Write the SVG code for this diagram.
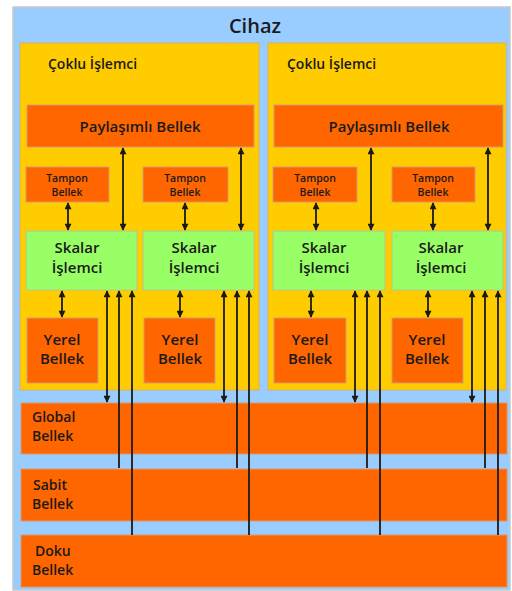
<svg xmlns="http://www.w3.org/2000/svg" width="512" height="591" viewBox="0 0 512 591">
<style>
text{font-family:"Open Sans","DejaVu Sans",sans-serif;fill:#1a1a1a;font-weight:600}
.blue{fill:#99CCFF;stroke:#c8c8c8;stroke-width:1.5}
.yel{fill:#FFCC00;stroke:#d9b060;stroke-width:1}
.org{fill:#FF6600;stroke:#d89a70;stroke-width:1}
.grn{fill:#99FF66;stroke:#b0c890;stroke-width:1}
.ln{stroke:#1a1a1a;stroke-width:1.8;fill:none}
.c{text-anchor:middle}
</style>
<defs>
<marker id="ah" viewBox="0 0 10 10" refX="9" refY="5" markerWidth="8" markerHeight="7" orient="auto-start-reverse" markerUnits="userSpaceOnUse">
<path d="M0,0 L10,5 L0,10 z" fill="#1a1a1a"/>
</marker>
</defs>
<rect width="512" height="591" fill="#ffffff"/>
<g id="cihaz">
<rect class="blue" x="13" y="7" width="497" height="583"/>
<text class="c" x="255" y="33" font-size="20" font-weight="bold">Cihaz</text>
</g>
<g id="mp1">
<rect class="yel" x="20" y="43" width="239" height="347"/>
<text x="48" y="69" font-size="14">Çoklu İşlemci</text>
</g>
<g id="mp2">
<rect class="yel" x="268" y="43" width="238" height="347"/>
<text x="287" y="69" font-size="14">Çoklu İşlemci</text>
</g>
<g id="shared1"><rect class="org" x="27" y="105" width="227" height="42"/><text class="c" x="140" y="132" font-size="15">Paylaşımlı Bellek</text></g>
<g id="shared2"><rect class="org" x="274" y="105" width="229" height="42"/><text class="c" x="389" y="132" font-size="15">Paylaşımlı Bellek</text></g>
<g id="tampon1"><rect class="org" x="26" y="167" width="83" height="35"/><text class="c" x="67" y="182" font-size="10.5">Tampon</text><text class="c" x="67" y="196" font-size="10.5">Bellek</text></g>
<g id="tampon2"><rect class="org" x="143" y="167" width="85" height="35"/><text class="c" x="185" y="182" font-size="10.5">Tampon</text><text class="c" x="185" y="196" font-size="10.5">Bellek</text></g>
<g id="tampon3"><rect class="org" x="273" y="167" width="84" height="35"/><text class="c" x="315" y="182" font-size="10.5">Tampon</text><text class="c" x="315" y="196" font-size="10.5">Bellek</text></g>
<g id="tampon4"><rect class="org" x="392" y="167" width="83" height="35"/><text class="c" x="433" y="182" font-size="10.5">Tampon</text><text class="c" x="433" y="196" font-size="10.5">Bellek</text></g>
<g id="skalar1"><rect class="grn" x="26" y="231" width="111" height="59"/><text class="c" x="77" y="253" font-size="15">Skalar</text><text class="c" x="77" y="273" font-size="15">İşlemci</text></g>
<g id="skalar2"><rect class="grn" x="143" y="231" width="111" height="59"/><text class="c" x="194" y="253" font-size="15">Skalar</text><text class="c" x="194" y="273" font-size="15">İşlemci</text></g>
<g id="skalar3"><rect class="grn" x="273" y="231" width="112" height="59"/><text class="c" x="324" y="253" font-size="15">Skalar</text><text class="c" x="324" y="273" font-size="15">İşlemci</text></g>
<g id="skalar4"><rect class="grn" x="392" y="231" width="111" height="59"/><text class="c" x="441" y="253" font-size="15">Skalar</text><text class="c" x="441" y="273" font-size="15">İşlemci</text></g>
<g id="yerel1"><rect class="org" x="27" y="318" width="71" height="65"/><text class="c" x="62" y="345" font-size="15">Yerel</text><text class="c" x="62" y="364" font-size="15">Bellek</text></g>
<g id="yerel2"><rect class="org" x="144" y="318" width="71" height="65"/><text class="c" x="180" y="345" font-size="15">Yerel</text><text class="c" x="180" y="364" font-size="15">Bellek</text></g>
<g id="yerel3"><rect class="org" x="274" y="318" width="72" height="65"/><text class="c" x="310" y="345" font-size="15">Yerel</text><text class="c" x="310" y="364" font-size="15">Bellek</text></g>
<g id="yerel4"><rect class="org" x="392" y="318" width="71" height="65"/><text class="c" x="427" y="345" font-size="15">Yerel</text><text class="c" x="427" y="364" font-size="15">Bellek</text></g>
<g id="global"><rect class="org" x="21" y="403" width="486" height="51"/><text x="32" y="422" font-size="14">Global</text><text x="32" y="441" font-size="14">Bellek</text></g>
<g id="sabit"><rect class="org" x="21" y="469" width="486" height="52"/><text x="33" y="490" font-size="14">Sabit</text><text x="32" y="509" font-size="14">Bellek</text></g>
<g id="doku"><rect class="org" x="21" y="535" width="486" height="52"/><text x="35" y="556" font-size="14">Doku</text><text x="32" y="575" font-size="14">Bellek</text></g>
<g id="connectors">
<line class="ln" x1="123" y1="148" x2="123" y2="230" marker-start="url(#ah)" marker-end="url(#ah)"/>
<line class="ln" x1="241" y1="148" x2="241" y2="230" marker-start="url(#ah)" marker-end="url(#ah)"/>
<line class="ln" x1="371" y1="148" x2="371" y2="230" marker-start="url(#ah)" marker-end="url(#ah)"/>
<line class="ln" x1="488" y1="148" x2="488" y2="230" marker-start="url(#ah)" marker-end="url(#ah)"/>
<line class="ln" x1="68" y1="203" x2="68" y2="230" marker-start="url(#ah)" marker-end="url(#ah)"/>
<line class="ln" x1="185" y1="203" x2="185" y2="230" marker-start="url(#ah)" marker-end="url(#ah)"/>
<line class="ln" x1="316" y1="203" x2="316" y2="230" marker-start="url(#ah)" marker-end="url(#ah)"/>
<line class="ln" x1="433" y1="203" x2="433" y2="230" marker-start="url(#ah)" marker-end="url(#ah)"/>
<line class="ln" x1="62" y1="291" x2="62" y2="317" marker-start="url(#ah)" marker-end="url(#ah)"/>
<line class="ln" x1="180" y1="291" x2="180" y2="317" marker-start="url(#ah)" marker-end="url(#ah)"/>
<line class="ln" x1="311" y1="291" x2="311" y2="317" marker-start="url(#ah)" marker-end="url(#ah)"/>
<line class="ln" x1="428" y1="291" x2="428" y2="317" marker-start="url(#ah)" marker-end="url(#ah)"/>
<line class="ln" x1="107" y1="291" x2="107" y2="402" marker-start="url(#ah)" marker-end="url(#ah)"/>
<line class="ln" x1="224" y1="291" x2="224" y2="402" marker-start="url(#ah)" marker-end="url(#ah)"/>
<line class="ln" x1="355" y1="291" x2="355" y2="402" marker-start="url(#ah)" marker-end="url(#ah)"/>
<line class="ln" x1="472" y1="291" x2="472" y2="402" marker-start="url(#ah)" marker-end="url(#ah)"/>
<line class="ln" x1="119" y1="468" x2="119" y2="291" marker-end="url(#ah)"/>
<line class="ln" x1="237" y1="468" x2="237" y2="291" marker-end="url(#ah)"/>
<line class="ln" x1="367" y1="468" x2="367" y2="291" marker-end="url(#ah)"/>
<line class="ln" x1="485" y1="468" x2="485" y2="291" marker-end="url(#ah)"/>
<line class="ln" x1="132" y1="535" x2="132" y2="291" marker-end="url(#ah)"/>
<line class="ln" x1="249" y1="535" x2="249" y2="291" marker-end="url(#ah)"/>
<line class="ln" x1="380" y1="535" x2="380" y2="291" marker-end="url(#ah)"/>
<line class="ln" x1="498" y1="535" x2="498" y2="291" marker-end="url(#ah)"/>
</g>
</svg>
